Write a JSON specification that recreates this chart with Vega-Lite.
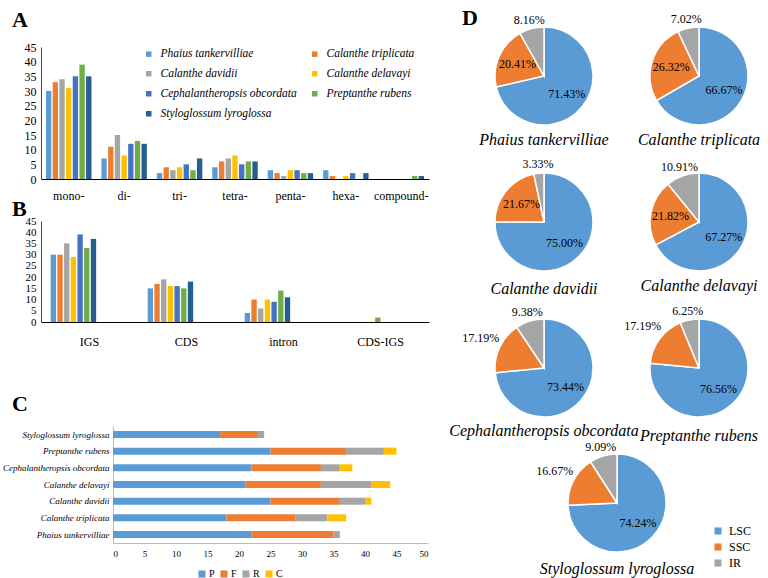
{
  "$schema": "https://vega.github.io/schema/vega-lite/v6.json",
  "background": "white",
  "padding": {"left": 2, "top": 1, "right": 2, "bottom": 0},
  "config": {
    "font": "Liberation Serif",
    "view": {"stroke": null},
    "axis": {"labelFont": "Liberation Serif", "labelColor": "#000", "labelFontSize": 12, "domainColor": "#000", "ticks": false, "grid": false, "title": null, "labelOverlap": false},
    "legend": {"labelFont": "Liberation Serif", "labelColor": "#000", "symbolType": "square", "symbolStrokeWidth": 0, "title": null, "padding": 0},
    "title": {"font": "Liberation Serif", "fontSize": 22, "fontWeight": "bold", "color": "#000", "anchor": "start", "frame": "group"}
  },
  "datasets": {
    "ssrA": [
      {"k": "mono-", "sp": "Phaius tankervilliae", "n": 30}, {"k": "mono-", "sp": "Calanthe triplicata", "n": 33}, {"k": "mono-", "sp": "Calanthe davidii", "n": 34}, {"k": "mono-", "sp": "Calanthe delavayi", "n": 31}, {"k": "mono-", "sp": "Cephalantheropsis obcordata", "n": 35}, {"k": "mono-", "sp": "Preptanthe rubens", "n": 39}, {"k": "mono-", "sp": "Styloglossum lyroglossa", "n": 35},
      {"k": "di-", "sp": "Phaius tankervilliae", "n": 7}, {"k": "di-", "sp": "Calanthe triplicata", "n": 11}, {"k": "di-", "sp": "Calanthe davidii", "n": 15}, {"k": "di-", "sp": "Calanthe delavayi", "n": 8}, {"k": "di-", "sp": "Cephalantheropsis obcordata", "n": 12}, {"k": "di-", "sp": "Preptanthe rubens", "n": 13}, {"k": "di-", "sp": "Styloglossum lyroglossa", "n": 12},
      {"k": "tri-", "sp": "Phaius tankervilliae", "n": 2}, {"k": "tri-", "sp": "Calanthe triplicata", "n": 4}, {"k": "tri-", "sp": "Calanthe davidii", "n": 3}, {"k": "tri-", "sp": "Calanthe delavayi", "n": 4}, {"k": "tri-", "sp": "Cephalantheropsis obcordata", "n": 5}, {"k": "tri-", "sp": "Preptanthe rubens", "n": 3}, {"k": "tri-", "sp": "Styloglossum lyroglossa", "n": 7},
      {"k": "tetra-", "sp": "Phaius tankervilliae", "n": 4}, {"k": "tetra-", "sp": "Calanthe triplicata", "n": 6}, {"k": "tetra-", "sp": "Calanthe davidii", "n": 7}, {"k": "tetra-", "sp": "Calanthe delavayi", "n": 8}, {"k": "tetra-", "sp": "Cephalantheropsis obcordata", "n": 5}, {"k": "tetra-", "sp": "Preptanthe rubens", "n": 6}, {"k": "tetra-", "sp": "Styloglossum lyroglossa", "n": 6},
      {"k": "penta-", "sp": "Phaius tankervilliae", "n": 3}, {"k": "penta-", "sp": "Calanthe triplicata", "n": 2}, {"k": "penta-", "sp": "Calanthe davidii", "n": 1}, {"k": "penta-", "sp": "Calanthe delavayi", "n": 3}, {"k": "penta-", "sp": "Cephalantheropsis obcordata", "n": 3}, {"k": "penta-", "sp": "Preptanthe rubens", "n": 2}, {"k": "penta-", "sp": "Styloglossum lyroglossa", "n": 2},
      {"k": "hexa-", "sp": "Phaius tankervilliae", "n": 3}, {"k": "hexa-", "sp": "Calanthe triplicata", "n": 1}, {"k": "hexa-", "sp": "Calanthe davidii", "n": 0}, {"k": "hexa-", "sp": "Calanthe delavayi", "n": 1}, {"k": "hexa-", "sp": "Cephalantheropsis obcordata", "n": 2}, {"k": "hexa-", "sp": "Preptanthe rubens", "n": 0}, {"k": "hexa-", "sp": "Styloglossum lyroglossa", "n": 2},
      {"k": "compound-", "sp": "Phaius tankervilliae", "n": 0}, {"k": "compound-", "sp": "Calanthe triplicata", "n": 0}, {"k": "compound-", "sp": "Calanthe davidii", "n": 0}, {"k": "compound-", "sp": "Calanthe delavayi", "n": 0}, {"k": "compound-", "sp": "Cephalantheropsis obcordata", "n": 0}, {"k": "compound-", "sp": "Preptanthe rubens", "n": 1}, {"k": "compound-", "sp": "Styloglossum lyroglossa", "n": 1}
    ],
    "ssrB": [
      {"k": "IGS", "sp": "Phaius tankervilliae", "n": 30}, {"k": "IGS", "sp": "Calanthe triplicata", "n": 30}, {"k": "IGS", "sp": "Calanthe davidii", "n": 35}, {"k": "IGS", "sp": "Calanthe delavayi", "n": 29}, {"k": "IGS", "sp": "Cephalantheropsis obcordata", "n": 39}, {"k": "IGS", "sp": "Preptanthe rubens", "n": 33}, {"k": "IGS", "sp": "Styloglossum lyroglossa", "n": 37},
      {"k": "CDS", "sp": "Phaius tankervilliae", "n": 15}, {"k": "CDS", "sp": "Calanthe triplicata", "n": 17}, {"k": "CDS", "sp": "Calanthe davidii", "n": 19}, {"k": "CDS", "sp": "Calanthe delavayi", "n": 16}, {"k": "CDS", "sp": "Cephalantheropsis obcordata", "n": 16}, {"k": "CDS", "sp": "Preptanthe rubens", "n": 15}, {"k": "CDS", "sp": "Styloglossum lyroglossa", "n": 18},
      {"k": "intron", "sp": "Phaius tankervilliae", "n": 4}, {"k": "intron", "sp": "Calanthe triplicata", "n": 10}, {"k": "intron", "sp": "Calanthe davidii", "n": 6}, {"k": "intron", "sp": "Calanthe delavayi", "n": 10}, {"k": "intron", "sp": "Cephalantheropsis obcordata", "n": 9}, {"k": "intron", "sp": "Preptanthe rubens", "n": 14}, {"k": "intron", "sp": "Styloglossum lyroglossa", "n": 11},
      {"k": "CDS-IGS", "sp": "Phaius tankervilliae", "n": 0}, {"k": "CDS-IGS", "sp": "Calanthe triplicata", "n": 0}, {"k": "CDS-IGS", "sp": "Calanthe davidii", "n": 0}, {"k": "CDS-IGS", "sp": "Calanthe delavayi", "n": 0}, {"k": "CDS-IGS", "sp": "Cephalantheropsis obcordata", "n": 0}, {"k": "CDS-IGS", "sp": "Preptanthe rubens", "n": 2}, {"k": "CDS-IGS", "sp": "Styloglossum lyroglossa", "n": 0}
    ],
    "ssrC": [
      {"cls": "P", "sp": "Phaius tankervilliae", "n": 22}, {"cls": "F", "sp": "Phaius tankervilliae", "n": 13}, {"cls": "R", "sp": "Phaius tankervilliae", "n": 1}, {"cls": "C", "sp": "Phaius tankervilliae", "n": 0},
      {"cls": "P", "sp": "Calanthe triplicata", "n": 18}, {"cls": "F", "sp": "Calanthe triplicata", "n": 11}, {"cls": "R", "sp": "Calanthe triplicata", "n": 5}, {"cls": "C", "sp": "Calanthe triplicata", "n": 3},
      {"cls": "P", "sp": "Calanthe davidii", "n": 25}, {"cls": "F", "sp": "Calanthe davidii", "n": 11}, {"cls": "R", "sp": "Calanthe davidii", "n": 4}, {"cls": "C", "sp": "Calanthe davidii", "n": 1},
      {"cls": "P", "sp": "Calanthe delavayi", "n": 21}, {"cls": "F", "sp": "Calanthe delavayi", "n": 12}, {"cls": "R", "sp": "Calanthe delavayi", "n": 8}, {"cls": "C", "sp": "Calanthe delavayi", "n": 3},
      {"cls": "P", "sp": "Cephalantheropsis obcordata", "n": 22}, {"cls": "F", "sp": "Cephalantheropsis obcordata", "n": 11}, {"cls": "R", "sp": "Cephalantheropsis obcordata", "n": 3}, {"cls": "C", "sp": "Cephalantheropsis obcordata", "n": 2},
      {"cls": "P", "sp": "Preptanthe rubens", "n": 25}, {"cls": "F", "sp": "Preptanthe rubens", "n": 12}, {"cls": "R", "sp": "Preptanthe rubens", "n": 6}, {"cls": "C", "sp": "Preptanthe rubens", "n": 2},
      {"cls": "P", "sp": "Styloglossum lyroglossa", "n": 17}, {"cls": "F", "sp": "Styloglossum lyroglossa", "n": 6}, {"cls": "R", "sp": "Styloglossum lyroglossa", "n": 1}, {"cls": "C", "sp": "Styloglossum lyroglossa", "n": 0}
    ],
    "pies": [
      {"sp": "Phaius tankervilliae", "region": "LSC", "share": 0.7143}, {"sp": "Phaius tankervilliae", "region": "SSC", "share": 0.2041}, {"sp": "Phaius tankervilliae", "region": "IR", "share": 0.0816},
      {"sp": "Calanthe triplicata", "region": "LSC", "share": 0.6667}, {"sp": "Calanthe triplicata", "region": "SSC", "share": 0.2632}, {"sp": "Calanthe triplicata", "region": "IR", "share": 0.0702},
      {"sp": "Calanthe davidii", "region": "LSC", "share": 0.75}, {"sp": "Calanthe davidii", "region": "SSC", "share": 0.2167}, {"sp": "Calanthe davidii", "region": "IR", "share": 0.0333},
      {"sp": "Calanthe delavayi", "region": "LSC", "share": 0.6727}, {"sp": "Calanthe delavayi", "region": "SSC", "share": 0.2182}, {"sp": "Calanthe delavayi", "region": "IR", "share": 0.1091},
      {"sp": "Cephalantheropsis obcordata", "region": "LSC", "share": 0.7344}, {"sp": "Cephalantheropsis obcordata", "region": "SSC", "share": 0.1719}, {"sp": "Cephalantheropsis obcordata", "region": "IR", "share": 0.0938},
      {"sp": "Preptanthe rubens", "region": "LSC", "share": 0.7656}, {"sp": "Preptanthe rubens", "region": "SSC", "share": 0.1719}, {"sp": "Preptanthe rubens", "region": "IR", "share": 0.0625},
      {"sp": "Styloglossum lyroglossa", "region": "LSC", "share": 0.7424}, {"sp": "Styloglossum lyroglossa", "region": "SSC", "share": 0.1667}, {"sp": "Styloglossum lyroglossa", "region": "IR", "share": 0.0909}
    ]
  },
  "resolve": {"scale": {"color": "independent"}, "legend": {"color": "independent"}},
  "columns": 2,
  "align": "none",
  "spacing": 20,
  "concat": [
    {
      "spacing": -3,
      "resolve": {"scale": {"color": "independent"}, "legend": {"color": "independent"}},
      "vconcat": [
        {
          "title": {"text": "A", "dx": -29, "offset": -6},
          "width": 388, "height": 153,
          "data": {"name": "ssrA"},
          "mark": {"type": "bar"},
          "encoding": {
            "x": {"field": "k", "type": "nominal", "scale": {"domain": ["mono-", "di-", "tri-", "tetra-", "penta-", "hexa-", "compound-"], "paddingInner": 0.18, "paddingOuter": 0.09}, "axis": {"labelAngle": 0, "labelPadding": 11}},
            "xOffset": {"field": "sp", "type": "nominal", "scale": {"domain": ["Phaius tankervilliae", "Calanthe triplicata", "Calanthe davidii", "Calanthe delavayi", "Cephalantheropsis obcordata", "Preptanthe rubens", "Styloglossum lyroglossa"], "paddingInner": 0.2}},
            "y": {"field": "n", "type": "quantitative", "scale": {"domain": [0, 45], "nice": false, "range": [153, 21]}, "axis": {"values": [0, 5, 10, 15, 20, 25, 30, 35, 40, 45], "labelPadding": 5, "domainColor": "#444"}},
            "color": {"field": "sp", "type": "nominal", "scale": {"domain": ["Phaius tankervilliae", "Calanthe triplicata", "Calanthe davidii", "Calanthe delavayi", "Cephalantheropsis obcordata", "Preptanthe rubens", "Styloglossum lyroglossa"], "range": ["#5B9BD5", "#ED7D31", "#A5A5A5", "#FFC000", "#4472C4", "#70AD47", "#255E91"]},
              "legend": {"orient": "none", "legendX": 102, "legendY": 22, "columns": 2, "values": ["Phaius tankervilliae", "Calanthe davidii", "Cephalantheropsis obcordata", "Styloglossum lyroglossa", "Calanthe triplicata", "Calanthe delavayi", "Preptanthe rubens"], "labelFontStyle": "italic", "labelFontSize": 11.5, "symbolSize": 30, "rowPadding": 7, "columnPadding": 12, "labelOffset": 6}}
          }
        },
        {
          "title": {"text": "B", "dx": -29, "offset": -6},
          "width": 388, "height": 101,
          "data": {"name": "ssrB"},
          "mark": {"type": "bar"},
          "encoding": {
            "x": {"field": "k", "type": "nominal", "scale": {"domain": ["IGS", "CDS", "intron", "CDS-IGS"], "paddingInner": 0.2, "paddingOuter": 0.1}, "axis": {"labelAngle": 0, "labelPadding": 14, "title": " ", "titlePadding": 38}},
            "xOffset": {"field": "sp", "type": "nominal", "scale": {"domain": ["Phaius tankervilliae", "Calanthe triplicata", "Calanthe davidii", "Calanthe delavayi", "Cephalantheropsis obcordata", "Preptanthe rubens", "Styloglossum lyroglossa"], "paddingInner": 0.2}},
            "y": {"field": "n", "type": "quantitative", "scale": {"domain": [0, 45], "nice": false}, "axis": {"values": [0, 5, 10, 15, 20, 25, 30, 35, 40, 45], "labelPadding": 5, "labelFontSize": 11, "domainColor": "#444"}},
            "color": {"field": "sp", "type": "nominal", "scale": {"domain": ["Phaius tankervilliae", "Calanthe triplicata", "Calanthe davidii", "Calanthe delavayi", "Cephalantheropsis obcordata", "Preptanthe rubens", "Styloglossum lyroglossa"], "range": ["#5B9BD5", "#ED7D31", "#A5A5A5", "#FFC000", "#4472C4", "#70AD47", "#255E91"]}, "legend": null}
          }
        },
        {
          "title": {"text": "C", "dx": -29, "offset": 10},
          "width": 388, "height": 117,
          "data": {"name": "ssrC"},
          "transform": [{"calculate": "indexof(['P','F','R','C'], datum.cls)", "as": "ord"}],
          "mark": {"type": "bar"},
          "encoding": {
            "y": {"field": "sp", "type": "nominal", "scale": {"domain": ["Styloglossum lyroglossa", "Preptanthe rubens", "Cephalantheropsis obcordata", "Calanthe delavayi", "Calanthe davidii", "Calanthe triplicata", "Phaius tankervilliae"], "paddingInner": 0.58, "paddingOuter": 0.3}, "axis": {"offset": -72, "labelFontStyle": "italic", "labelFontSize": 9, "domainColor": "#bbb", "labelPadding": 4}},
            "x": {"field": "n", "type": "quantitative", "stack": "zero", "scale": {"domain": [0, 50], "range": [72, 387], "nice": false}, "axis": {"values": [0, 5, 10, 15, 20, 25, 30, 35, 40, 45, 50], "labelFontSize": 9, "domainColor": "#bbb", "labelPadding": 6}},
            "order": {"field": "ord", "type": "quantitative", "sort": "ascending"},
            "color": {"field": "cls", "type": "nominal", "scale": {"domain": ["P", "F", "R", "C"], "range": ["#5B9BD5", "#ED7D31", "#A5A5A5", "#FFC000"]},
              "legend": {"orient": "none", "direction": "horizontal", "legendX": 156, "legendY": 143, "labelFontSize": 10, "symbolSize": 50, "columnPadding": 4, "labelOffset": 2}}
          }
        }
      ]
    },
    {
      "spacing": -15,
      "resolve": {"legend": {"color": "independent"}},
      "vconcat": [
        {
          "title": {"text": "D", "dx": -22, "offset": -28},
          "columns": 2,
          "bounds": "flush",
          "spacing": {"column": 35, "row": 46},
          "concat": [
            {
              "width": 120, "height": 100,
              "data": {"name": "pies"},
              "transform": [{"filter": "datum.sp === 'Phaius tankervilliae'"}],
              "title": {"text": "Phaius tankervilliae", "orient": "bottom", "anchor": "middle", "fontSize": 16, "fontWeight": "normal", "fontStyle": "italic", "offset": 4},
              "layer": [
                {"mark": {"type": "arc", "outerRadius": 49, "stroke": "#ffffff", "strokeWidth": 1.5}, "encoding": {"theta": {"field": "share", "type": "quantitative", "stack": true}, "order": {"field": "share", "type": "quantitative", "sort": "descending"}, "color": {"field": "region", "type": "nominal", "scale": {"domain": ["LSC", "SSC", "IR"], "range": ["#5B9BD5", "#ED7D31", "#A5A5A5"]}, "legend": null}}},
                {"mark": {"type": "text", "radius": 29, "fontSize": 12, "font": "Liberation Serif", "color": "#000"}, "encoding": {"theta": {"field": "share", "type": "quantitative", "stack": true}, "order": {"field": "share", "type": "quantitative", "sort": "descending"}, "text": {"condition": {"test": "datum.region === 'LSC' || (datum.region === 'SSC' && datum.share > 0.2)", "field": "share", "type": "quantitative", "format": ".2%"}, "value": ""}}},
                {"mark": {"type": "text", "radius": 58, "fontSize": 12, "font": "Liberation Serif", "color": "#000"}, "encoding": {"theta": {"field": "share", "type": "quantitative", "stack": true}, "order": {"field": "share", "type": "quantitative", "sort": "descending"}, "text": {"condition": {"test": "datum.region === 'IR'", "field": "share", "type": "quantitative", "format": ".2%"}, "value": ""}}},
                {"mark": {"type": "text", "radius": 70, "fontSize": 12, "font": "Liberation Serif", "color": "#000"}, "encoding": {"theta": {"field": "share", "type": "quantitative", "stack": true}, "order": {"field": "share", "type": "quantitative", "sort": "descending"}, "text": {"condition": {"test": "datum.region === 'SSC' && datum.share < 0.2", "field": "share", "type": "quantitative", "format": ".2%"}, "value": ""}}}
              ]
            },
            {
              "width": 120, "height": 100,
              "data": {"name": "pies"},
              "transform": [{"filter": "datum.sp === 'Calanthe triplicata'"}],
              "title": {"text": "Calanthe triplicata", "orient": "bottom", "anchor": "middle", "fontSize": 16, "fontWeight": "normal", "fontStyle": "italic", "offset": 4},
              "layer": [
                {"mark": {"type": "arc", "outerRadius": 49, "stroke": "#ffffff", "strokeWidth": 1.5}, "encoding": {"theta": {"field": "share", "type": "quantitative", "stack": true}, "order": {"field": "share", "type": "quantitative", "sort": "descending"}, "color": {"field": "region", "type": "nominal", "scale": {"domain": ["LSC", "SSC", "IR"], "range": ["#5B9BD5", "#ED7D31", "#A5A5A5"]}, "legend": null}}},
                {"mark": {"type": "text", "radius": 29, "fontSize": 12, "font": "Liberation Serif", "color": "#000"}, "encoding": {"theta": {"field": "share", "type": "quantitative", "stack": true}, "order": {"field": "share", "type": "quantitative", "sort": "descending"}, "text": {"condition": {"test": "datum.region === 'LSC' || (datum.region === 'SSC' && datum.share > 0.2)", "field": "share", "type": "quantitative", "format": ".2%"}, "value": ""}}},
                {"mark": {"type": "text", "radius": 58, "fontSize": 12, "font": "Liberation Serif", "color": "#000"}, "encoding": {"theta": {"field": "share", "type": "quantitative", "stack": true}, "order": {"field": "share", "type": "quantitative", "sort": "descending"}, "text": {"condition": {"test": "datum.region === 'IR'", "field": "share", "type": "quantitative", "format": ".2%"}, "value": ""}}},
                {"mark": {"type": "text", "radius": 70, "fontSize": 12, "font": "Liberation Serif", "color": "#000"}, "encoding": {"theta": {"field": "share", "type": "quantitative", "stack": true}, "order": {"field": "share", "type": "quantitative", "sort": "descending"}, "text": {"condition": {"test": "datum.region === 'SSC' && datum.share < 0.2", "field": "share", "type": "quantitative", "format": ".2%"}, "value": ""}}}
              ]
            },
            {
              "width": 120, "height": 100,
              "data": {"name": "pies"},
              "transform": [{"filter": "datum.sp === 'Calanthe davidii'"}],
              "title": {"text": "Calanthe davidii", "orient": "bottom", "anchor": "middle", "fontSize": 16, "fontWeight": "normal", "fontStyle": "italic", "offset": 4},
              "layer": [
                {"mark": {"type": "arc", "outerRadius": 49, "stroke": "#ffffff", "strokeWidth": 1.5}, "encoding": {"theta": {"field": "share", "type": "quantitative", "stack": true}, "order": {"field": "share", "type": "quantitative", "sort": "descending"}, "color": {"field": "region", "type": "nominal", "scale": {"domain": ["LSC", "SSC", "IR"], "range": ["#5B9BD5", "#ED7D31", "#A5A5A5"]}, "legend": null}}},
                {"mark": {"type": "text", "radius": 29, "fontSize": 12, "font": "Liberation Serif", "color": "#000"}, "encoding": {"theta": {"field": "share", "type": "quantitative", "stack": true}, "order": {"field": "share", "type": "quantitative", "sort": "descending"}, "text": {"condition": {"test": "datum.region === 'LSC' || (datum.region === 'SSC' && datum.share > 0.2)", "field": "share", "type": "quantitative", "format": ".2%"}, "value": ""}}},
                {"mark": {"type": "text", "radius": 58, "fontSize": 12, "font": "Liberation Serif", "color": "#000"}, "encoding": {"theta": {"field": "share", "type": "quantitative", "stack": true}, "order": {"field": "share", "type": "quantitative", "sort": "descending"}, "text": {"condition": {"test": "datum.region === 'IR'", "field": "share", "type": "quantitative", "format": ".2%"}, "value": ""}}},
                {"mark": {"type": "text", "radius": 70, "fontSize": 12, "font": "Liberation Serif", "color": "#000"}, "encoding": {"theta": {"field": "share", "type": "quantitative", "stack": true}, "order": {"field": "share", "type": "quantitative", "sort": "descending"}, "text": {"condition": {"test": "datum.region === 'SSC' && datum.share < 0.2", "field": "share", "type": "quantitative", "format": ".2%"}, "value": ""}}}
              ]
            },
            {
              "width": 120, "height": 100,
              "data": {"name": "pies"},
              "transform": [{"filter": "datum.sp === 'Calanthe delavayi'"}],
              "title": {"text": "Calanthe delavayi", "orient": "bottom", "anchor": "middle", "fontSize": 16, "fontWeight": "normal", "fontStyle": "italic", "offset": 4},
              "layer": [
                {"mark": {"type": "arc", "outerRadius": 49, "stroke": "#ffffff", "strokeWidth": 1.5}, "encoding": {"theta": {"field": "share", "type": "quantitative", "stack": true}, "order": {"field": "share", "type": "quantitative", "sort": "descending"}, "color": {"field": "region", "type": "nominal", "scale": {"domain": ["LSC", "SSC", "IR"], "range": ["#5B9BD5", "#ED7D31", "#A5A5A5"]}, "legend": null}}},
                {"mark": {"type": "text", "radius": 29, "fontSize": 12, "font": "Liberation Serif", "color": "#000"}, "encoding": {"theta": {"field": "share", "type": "quantitative", "stack": true}, "order": {"field": "share", "type": "quantitative", "sort": "descending"}, "text": {"condition": {"test": "datum.region === 'LSC' || (datum.region === 'SSC' && datum.share > 0.2)", "field": "share", "type": "quantitative", "format": ".2%"}, "value": ""}}},
                {"mark": {"type": "text", "radius": 58, "fontSize": 12, "font": "Liberation Serif", "color": "#000"}, "encoding": {"theta": {"field": "share", "type": "quantitative", "stack": true}, "order": {"field": "share", "type": "quantitative", "sort": "descending"}, "text": {"condition": {"test": "datum.region === 'IR'", "field": "share", "type": "quantitative", "format": ".2%"}, "value": ""}}},
                {"mark": {"type": "text", "radius": 70, "fontSize": 12, "font": "Liberation Serif", "color": "#000"}, "encoding": {"theta": {"field": "share", "type": "quantitative", "stack": true}, "order": {"field": "share", "type": "quantitative", "sort": "descending"}, "text": {"condition": {"test": "datum.region === 'SSC' && datum.share < 0.2", "field": "share", "type": "quantitative", "format": ".2%"}, "value": ""}}}
              ]
            },
            {
              "width": 120, "height": 100,
              "data": {"name": "pies"},
              "transform": [{"filter": "datum.sp === 'Cephalantheropsis obcordata'"}],
              "title": {"text": "Cephalantheropsis obcordata", "orient": "bottom", "anchor": "middle", "fontSize": 16, "fontWeight": "normal", "fontStyle": "italic", "offset": 2},
              "layer": [
                {"mark": {"type": "arc", "outerRadius": 49, "stroke": "#ffffff", "strokeWidth": 1.5}, "encoding": {"theta": {"field": "share", "type": "quantitative", "stack": true}, "order": {"field": "share", "type": "quantitative", "sort": "descending"}, "color": {"field": "region", "type": "nominal", "scale": {"domain": ["LSC", "SSC", "IR"], "range": ["#5B9BD5", "#ED7D31", "#A5A5A5"]}, "legend": null}}},
                {"mark": {"type": "text", "radius": 29, "fontSize": 12, "font": "Liberation Serif", "color": "#000"}, "encoding": {"theta": {"field": "share", "type": "quantitative", "stack": true}, "order": {"field": "share", "type": "quantitative", "sort": "descending"}, "text": {"condition": {"test": "datum.region === 'LSC' || (datum.region === 'SSC' && datum.share > 0.2)", "field": "share", "type": "quantitative", "format": ".2%"}, "value": ""}}},
                {"mark": {"type": "text", "radius": 58, "fontSize": 12, "font": "Liberation Serif", "color": "#000"}, "encoding": {"theta": {"field": "share", "type": "quantitative", "stack": true}, "order": {"field": "share", "type": "quantitative", "sort": "descending"}, "text": {"condition": {"test": "datum.region === 'IR'", "field": "share", "type": "quantitative", "format": ".2%"}, "value": ""}}},
                {"mark": {"type": "text", "radius": 70, "fontSize": 12, "font": "Liberation Serif", "color": "#000"}, "encoding": {"theta": {"field": "share", "type": "quantitative", "stack": true}, "order": {"field": "share", "type": "quantitative", "sort": "descending"}, "text": {"condition": {"test": "datum.region === 'SSC' && datum.share < 0.2", "field": "share", "type": "quantitative", "format": ".2%"}, "value": ""}}}
              ]
            },
            {
              "width": 120, "height": 100,
              "data": {"name": "pies"},
              "transform": [{"filter": "datum.sp === 'Preptanthe rubens'"}],
              "title": {"text": "Preptanthe rubens", "orient": "bottom", "anchor": "middle", "fontSize": 16, "fontWeight": "normal", "fontStyle": "italic", "offset": 2},
              "layer": [
                {"mark": {"type": "arc", "outerRadius": 49, "stroke": "#ffffff", "strokeWidth": 1.5}, "encoding": {"theta": {"field": "share", "type": "quantitative", "stack": true}, "order": {"field": "share", "type": "quantitative", "sort": "descending"}, "color": {"field": "region", "type": "nominal", "scale": {"domain": ["LSC", "SSC", "IR"], "range": ["#5B9BD5", "#ED7D31", "#A5A5A5"]}, "legend": null}}},
                {"mark": {"type": "text", "radius": 29, "fontSize": 12, "font": "Liberation Serif", "color": "#000"}, "encoding": {"theta": {"field": "share", "type": "quantitative", "stack": true}, "order": {"field": "share", "type": "quantitative", "sort": "descending"}, "text": {"condition": {"test": "datum.region === 'LSC' || (datum.region === 'SSC' && datum.share > 0.2)", "field": "share", "type": "quantitative", "format": ".2%"}, "value": ""}}},
                {"mark": {"type": "text", "radius": 58, "fontSize": 12, "font": "Liberation Serif", "color": "#000"}, "encoding": {"theta": {"field": "share", "type": "quantitative", "stack": true}, "order": {"field": "share", "type": "quantitative", "sort": "descending"}, "text": {"condition": {"test": "datum.region === 'IR'", "field": "share", "type": "quantitative", "format": ".2%"}, "value": ""}}},
                {"mark": {"type": "text", "radius": 70, "fontSize": 12, "font": "Liberation Serif", "color": "#000"}, "encoding": {"theta": {"field": "share", "type": "quantitative", "stack": true}, "order": {"field": "share", "type": "quantitative", "sort": "descending"}, "text": {"condition": {"test": "datum.region === 'SSC' && datum.share < 0.2", "field": "share", "type": "quantitative", "format": ".2%"}, "value": ""}}}
              ]
            }
          ]
        },
        {
          "width": 266, "height": 100,
          "data": {"name": "pies"},
          "transform": [{"filter": "datum.sp === 'Styloglossum lyroglossa'"}],
          "title": {"text": "Styloglossum lyroglossa", "orient": "bottom", "anchor": "middle", "fontSize": 16, "fontWeight": "normal", "fontStyle": "italic", "offset": -8},
          "layer": [
            {"mark": {"type": "arc", "outerRadius": 49, "stroke": "#ffffff", "strokeWidth": 1.5},
             "encoding": {
               "theta": {"field": "share", "type": "quantitative", "stack": true},
               "order": {"field": "share", "type": "quantitative", "sort": "descending"},
               "color": {"field": "region", "type": "nominal", "scale": {"domain": ["LSC", "SSC", "IR"], "range": ["#5B9BD5", "#ED7D31", "#A5A5A5"]},
                 "legend": {"orient": "none", "legendX": 228, "legendY": 72, "labelFontSize": 12, "symbolSize": 50, "rowPadding": 4, "labelOffset": 5}}
             }},
            {"mark": {"type": "text", "radius": 29, "fontSize": 12, "font": "Liberation Serif", "color": "#000"}, "encoding": {"theta": {"field": "share", "type": "quantitative", "stack": true}, "order": {"field": "share", "type": "quantitative", "sort": "descending"}, "text": {"condition": {"test": "datum.region === 'LSC' || (datum.region === 'SSC' && datum.share > 0.2)", "field": "share", "type": "quantitative", "format": ".2%"}, "value": ""}}},
            {"mark": {"type": "text", "radius": 58, "fontSize": 12, "font": "Liberation Serif", "color": "#000"}, "encoding": {"theta": {"field": "share", "type": "quantitative", "stack": true}, "order": {"field": "share", "type": "quantitative", "sort": "descending"}, "text": {"condition": {"test": "datum.region === 'IR'", "field": "share", "type": "quantitative", "format": ".2%"}, "value": ""}}},
            {"mark": {"type": "text", "radius": 70, "fontSize": 12, "font": "Liberation Serif", "color": "#000"}, "encoding": {"theta": {"field": "share", "type": "quantitative", "stack": true}, "order": {"field": "share", "type": "quantitative", "sort": "descending"}, "text": {"condition": {"test": "datum.region === 'SSC' && datum.share < 0.2", "field": "share", "type": "quantitative", "format": ".2%"}, "value": ""}}}
          ]
        }
      ]
    }
  ]
}
